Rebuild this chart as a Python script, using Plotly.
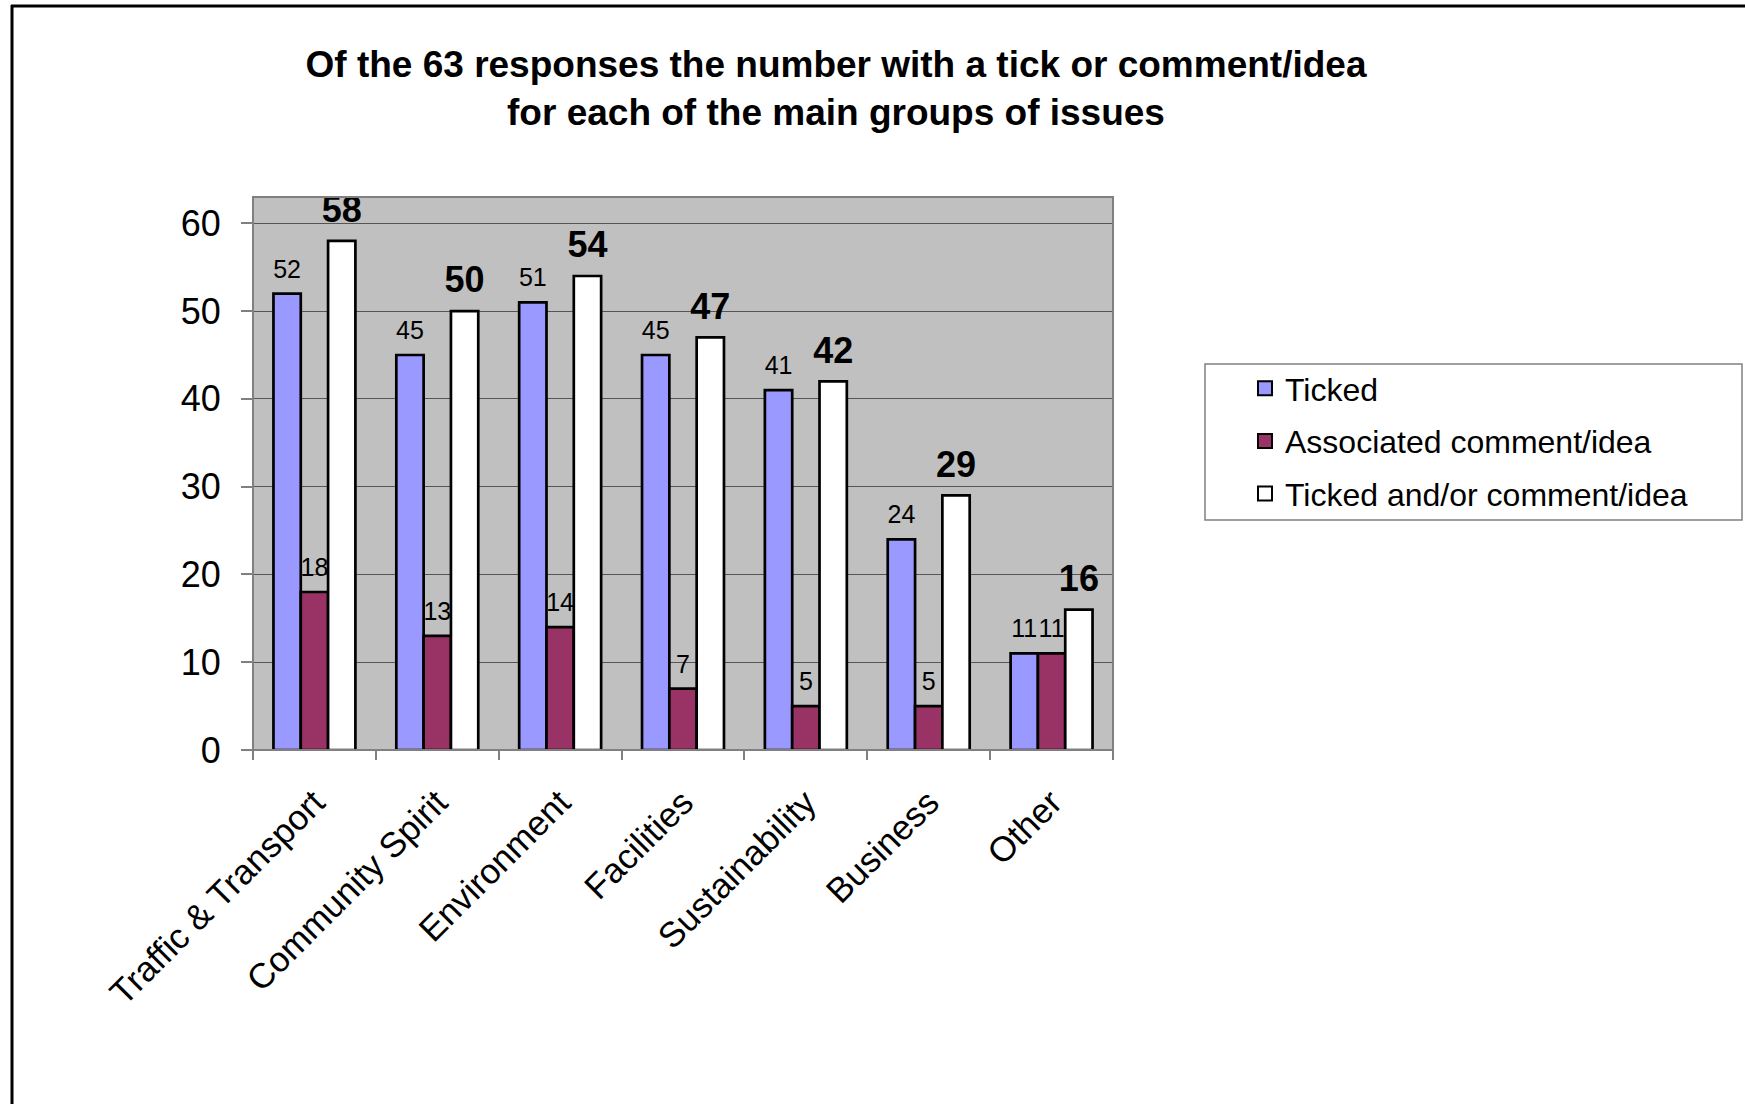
import plotly.graph_objects as go

# ---- data ----
categories = ["Traffic & Transport", "Community Spirit", "Environment",
              "Facilities", "Sustainability", "Business", "Other"]
ticked = [52, 45, 51, 45, 41, 24, 11]
associated = [18, 13, 14, 7, 5, 5, 11]
ticked_or_comment = [58, 50, 54, 47, 42, 29, 16]
series_names = ["Ticked", "Associated comment/idea", "Ticked and/or comment/idea"]
y_tick_values = [0, 10, 20, 30, 40, 50, 60]
title_text = ("Of the 63 responses the number with a tick or comment/idea<br>"
              "for each of the main groups of issues")

# ---- layout geometry (pixels) ----
W, H = 1745, 1104
PL, PR, PT, PB = 253, 1113, 197, 750   # plot area edges
FONT = "Liberation Sans, Arial, sans-serif"
GAP = 0.333


def px_x(p):
    return (p - PL) / (PR - PL)


def px_y(p):
    return (PB - p) / (PB - PT)


fig = go.Figure()

series = [
    (series_names[0], ticked, "#9999FF", dict(size=25, color="black", family=FONT)),
    (series_names[1], associated, "#993366", dict(size=25, color="black", family=FONT)),
    (series_names[2], ticked_or_comment, "#FFFFFF",
     dict(size=36, color="black", family=FONT, weight="bold")),
]
for i, (name, vals, col, tf) in enumerate(series):
    fig.add_trace(go.Bar(
        name=name, x=categories, y=vals,
        marker=dict(color=col, line=dict(color="black", width=2.7)),
        showlegend=False, hoverinfo="x+y+name",
        offsetgroup=str(i), alignmentgroup="main",
    ))
# value labels, grouped like the bars
for i, (name, vals, col, tf) in enumerate(series):
    fig.add_trace(go.Scatter(
        x=categories, y=vals, mode="markers+text",
        text=[str(v) for v in vals], textposition="top center",
        textfont=tf, cliponaxis=False,
        marker=dict(size=14, color="rgba(0,0,0,0)"),
        showlegend=False, hoverinfo="skip",
        offsetgroup=str(i), alignmentgroup="main",
    ))
# legend entries (on a hidden overlay axis so they do not affect grouping)
for i, (name, vals, col, tf) in enumerate(series):
    fig.add_trace(go.Scatter(
        x=[None], y=[None], mode="markers", name=name,
        xaxis="x2", yaxis="y2",
        marker=dict(symbol="square", size=14, color=col,
                    line=dict(color="black", width=2)),
        legendgroup=f"g{i}",
    ))

shapes = [
    # outer frame (left and top edges)
    dict(type="line", xref="paper", yref="paper",
         x0=px_x(12), x1=px_x(12), y0=px_y(5), y1=px_y(H + 10),
         line=dict(color="black", width=3)),
    dict(type="line", xref="paper", yref="paper",
         x0=px_x(11), x1=px_x(W + 10), y0=px_y(6), y1=px_y(6),
         line=dict(color="black", width=3)),
    # plot area border
    dict(type="rect", xref="paper", yref="paper", x0=0, x1=1, y0=0, y1=1,
         line=dict(color="#808080", width=2), layer="above"),
    # legend box
    dict(type="rect", xref="paper", yref="paper",
         x0=px_x(1205), x1=px_x(1742), y0=px_y(520), y1=px_y(364),
         line=dict(color="#808080", width=1.5), fillcolor="rgba(0,0,0,0)"),
]

fig.update_layout(
    width=W, height=H,
    margin=dict(l=PL, r=W - PR, t=PT, b=H - PB, autoexpand=False),
    paper_bgcolor="white", plot_bgcolor="#C0C0C0",
    font=dict(family=FONT, color="black"),
    barmode="group", bargap=GAP, bargroupgap=0,
    scattermode="group", scattergap=GAP,
    title=dict(text=title_text, xref="container", yref="container",
               x=836 / W, xanchor="center", y=1 - 77 / H, yanchor="middle",
               font=dict(size=37, family=FONT, color="black", weight="bold")),
    legend=dict(x=px_x(1245), xanchor="left", y=px_y(361), yanchor="top",
                bgcolor="rgba(0,0,0,0)", borderwidth=0,
                font=dict(size=32, family=FONT, color="black"),
                tracegroupgap=8, itemwidth=30, itemsizing="trace"),
    xaxis=dict(tickangle=-45, tickson="boundaries", ticks="outside",
               ticklen=9, tickcolor="#808080", tickwidth=2, showgrid=False,
               tickfont=dict(size=35, family=FONT, color="black"),
               ticklabelstandoff=24, showline=False),
    yaxis=dict(range=[0, 63], tickvals=y_tick_values,
               showgrid=True, gridcolor="#555555", gridwidth=1,
               zeroline=False, ticks="outside", ticklen=11,
               tickcolor="#808080", tickwidth=2,
               tickfont=dict(size=36, family=FONT, color="black"),
               ticklabelstandoff=13, showline=False),
    xaxis2=dict(overlaying="x", visible=False),
    yaxis2=dict(overlaying="y", visible=False),
    shapes=shapes,
    showlegend=True,
)

fig.write_html("out.html", config={"displayModeBar": False},
               post_script="document.body.style.margin='0';")
